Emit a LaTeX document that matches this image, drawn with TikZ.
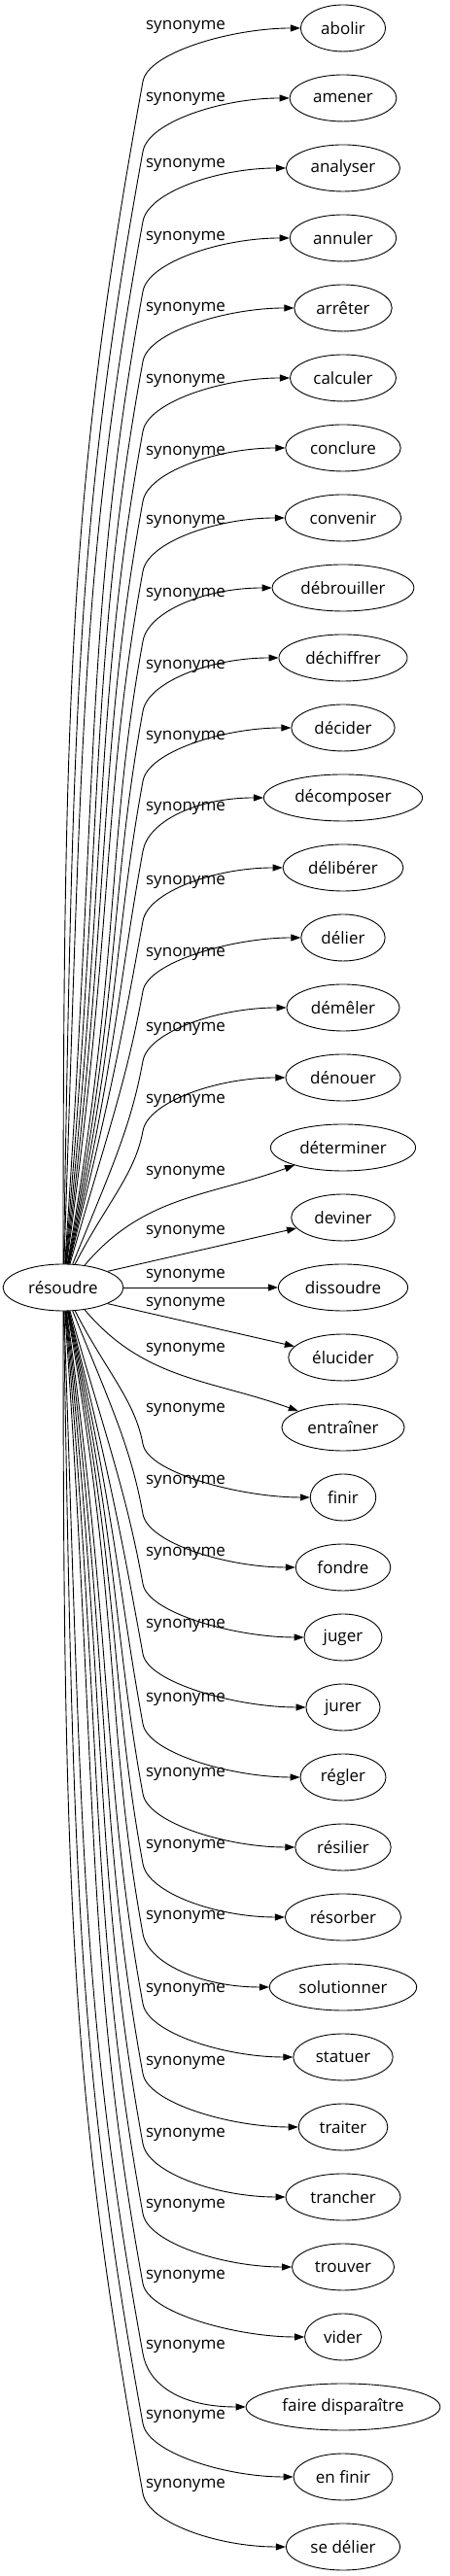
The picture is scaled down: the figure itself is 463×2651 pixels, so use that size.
\documentclass[tikz,border=0pt]{standalone}
\usepackage{fontspec}
\setmainfont{Open Sans}
\usetikzlibrary{positioning, arrows.meta, shapes.geometric, calc}

\begin{document}
\begin{tikzpicture}[
    x=1pt, y=1pt,
    >={Triangle[length=10pt, width=7pt]},
    node distance=72pt, on grid,
    word/.style={draw, ellipse, line width=0.9pt, minimum height=48pt,
                 inner xsep=8pt, inner ysep=2pt, font=\fontsize{17pt}{20pt}\selectfont},
    rel/.style={font=\fontsize{17pt}{20pt}\selectfont, inner sep=0pt},
    link/.style={->, line width=0.9pt},
    syn/.style={link, to path={
        let \p0=(res.center), \p1=(\tikztostart), \p2=(\tikztotarget.west),
            \n1={atan2(\y1-\y0,\x1-\x0)},
            \n3={ifthenelse(\y2>\y0,1,-1)},
            \p3=(147pt,{\y2-\n3*55pt}),
            \n4={abs(\y3-\y1)}
        in .. controls ($(\p1)+(\n1:0.5*\n4)$) and ({147pt-0.06*\n4},{\y3-\n3*0.33*\n4})
           .. (\p3) .. controls (152pt,{\y3+\n3*30pt}) and ({\x2-70pt},\y2) .. (\p2) \tikztonodes}},
]
\useasboundingbox (0,0) rectangle (463,2651);

% === SOURCE ===
\node[word] (res) at (65,1326) {résoudre};

% === SYNONYMS ===
\node[word] (abolir) at (353,2622) {abolir};
\node[word, below=of abolir] (amener) {amener};
\node[word, below=of amener] (analyser) {analyser};
\node[word, below=of analyser] (annuler) {annuler};
\node[word, below=of annuler] (arreter) {arrêter};
\node[word, below=of arreter] (calculer) {calculer};
\node[word, below=of calculer] (conclure) {conclure};
\node[word, below=of conclure] (convenir) {convenir};
\node[word, below=of convenir] (debrouiller) {débrouiller};
\node[word, below=of debrouiller] (dechiffrer) {déchiffrer};
\node[word, below=of dechiffrer] (decider) {décider};
\node[word, below=of decider] (decomposer) {décomposer};
\node[word, below=of decomposer] (deliberer) {délibérer};
\node[word, below=of deliberer] (delier) {délier};
\node[word, below=of delier] (demeler) {démêler};
\node[word, below=of demeler] (denouer) {dénouer};
\node[word, below=of denouer] (determiner) {déterminer};
\node[word, below=of determiner] (deviner) {deviner};
\node[word, below=of deviner] (dissoudre) {dissoudre};
\node[word, below=of dissoudre] (elucider) {élucider};
\node[word, below=of elucider] (entrainer) {entraîner};
\node[word, below=of entrainer] (finir) {finir};
\node[word, below=of finir] (fondre) {fondre};
\node[word, below=of fondre] (juger) {juger};
\node[word, below=of juger] (jurer) {jurer};
\node[word, below=of jurer] (regler) {régler};
\node[word, below=of regler] (resilier) {résilier};
\node[word, below=of resilier] (resorber) {résorber};
\node[word, below=of resorber] (solutionner) {solutionner};
\node[word, below=of solutionner] (statuer) {statuer};
\node[word, below=of statuer] (traiter) {traiter};
\node[word, below=of traiter] (trancher) {trancher};
\node[word, below=of trancher] (trouver) {trouver};
\node[word, below=of trouver] (vider) {vider};
\node[word, below=of vider] (faire-disparaitre) {faire disparaître};
\node[word, below=of faire-disparaitre] (en-finir) {en finir};
\node[word, below=of en-finir] (se-delier) {se délier};

% === LABELS ===
\node[rel] (l-abolir) at (191,2623) {synonyme};
\node[rel] (l-amener) at (191,2549) {synonyme};
\node[rel] (l-analyser) at (191,2481) {synonyme};
\node[rel] (l-annuler) at (191,2406) {synonyme};
\node[rel] (l-arreter) at (191,2333) {synonyme};
\node[rel] (l-calculer) at (191,2259) {synonyme};
\node[rel] (l-conclure) at (191,2185) {synonyme};
\node[rel] (l-convenir) at (191,2114) {synonyme};
\node[rel] (l-debrouiller) at (191,2039) {synonyme};
\node[rel] (l-dechiffrer) at (191,1965) {synonyme};
\node[rel] (l-decider) at (191,1892) {synonyme};
\node[rel] (l-decomposer) at (191,1819) {synonyme};
\node[rel] (l-deliberer) at (191,1743) {synonyme};
\node[rel] (l-delier) at (191,1669) {synonyme};
\node[rel] (l-demeler) at (191,1592) {synonyme};
\node[rel] (l-denouer) at (191,1518) {synonyme};
\node[rel] (l-determiner) at (191,1444) {synonyme};
\node[rel] (l-deviner) at (191,1383) {synonyme};
\node[rel] (l-dissoudre) at (191,1338) {synonyme};
\node[rel] (l-elucider) at (191,1309) {synonyme};
\node[rel] (l-entrainer) at (191,1262) {synonyme};
\node[rel] (l-finir) at (191,1200) {synonyme};
\node[rel] (l-fondre) at (191,1126) {synonyme};
\node[rel] (l-juger) at (191,1052) {synonyme};
\node[rel] (l-jurer) at (191,978) {synonyme};
\node[rel] (l-regler) at (191,902) {synonyme};
\node[rel] (l-resilier) at (191,825) {synonyme};
\node[rel] (l-resorber) at (191,751) {synonyme};
\node[rel] (l-solutionner) at (191,678) {synonyme};
\node[rel] (l-statuer) at (191,603) {synonyme};
\node[rel] (l-traiter) at (191,528) {synonyme};
\node[rel] (l-trancher) at (191,454) {synonyme};
\node[rel] (l-trouver) at (191,381) {synonyme};
\node[rel] (l-vider) at (191,308) {synonyme};
\node[rel] (l-faire-disparaitre) at (191,236) {synonyme};
\node[rel] (l-en-finir) at (191,164) {synonyme};
\node[rel] (l-se-delier) at (191,93) {synonyme};

% === LINKS ===
\draw[syn] (res.90) to (abolir);
\draw[syn] (res.89) to (amener);
\draw[syn] (res.88) to (analyser);
\draw[syn] (res.86) to (annuler);
\draw[syn] (res.85) to (arreter);
\draw[syn] (res.84) to (calculer);
\draw[syn] (res.83) to (conclure);
\draw[syn] (res.82) to (convenir);
\draw[syn] (res.80) to (debrouiller);
\draw[syn] (res.79) to (dechiffrer);
\draw[syn] (res.78) to (decider);
\draw[syn] (res.77) to (decomposer);
\draw[syn] (res.76) to (deliberer);
\draw[syn] (res.74) to (delier);
\draw[syn] (res.68) to (demeler);
\draw[syn] (res.63) to (denouer);
\draw[link] (res.46) to[out=50, in=200] (determiner);
\draw[link] (res.20) -- (deviner);
\draw[link] (res) -- (dissoudre);
\draw[link] (res.-20) -- (elucider);
\draw[link] (res.-46) to[out=-50, in=160] (entrainer);
\draw[syn] (res.-63) to (finir);
\draw[syn] (res.-68) to (fondre);
\draw[syn] (res.-74) to (juger);
\draw[syn] (res.-76) to (jurer);
\draw[syn] (res.-77) to (regler);
\draw[syn] (res.-78) to (resilier);
\draw[syn] (res.-79) to (resorber);
\draw[syn] (res.-80) to (solutionner);
\draw[syn] (res.-82) to (statuer);
\draw[syn] (res.-83) to (traiter);
\draw[syn] (res.-84) to (trancher);
\draw[syn] (res.-85) to (trouver);
\draw[syn] (res.-86) to (vider);
\draw[syn] (res.-88) to (faire-disparaitre);
\draw[syn] (res.-89) to (en-finir);
\draw[syn] (res.-90) to (se-delier);

\end{tikzpicture}
\end{document}
